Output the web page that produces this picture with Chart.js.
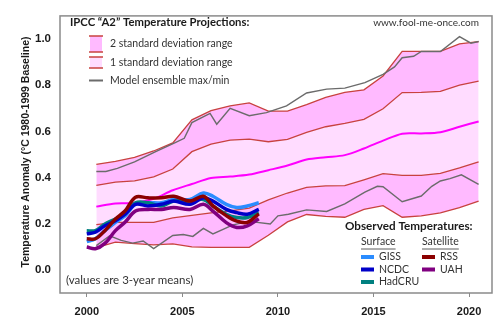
<!DOCTYPE html>
<html>
<head>
<meta charset="utf-8">
<script src="https://cdn.jsdelivr.net/npm/chart.js@4.4.1/dist/chart.umd.min.js"></script>
<style>
  html, body { margin: 0; padding: 0; background: #fff; }
</style>
</head>
<body>
<canvas id="tempChart" width="500" height="328"></canvas>
<script>
// IPCC A2 projection band (annual points)
var projYears = [2000.5, 2001.5, 2002.5, 2003.5, 2004.5, 2005.5, 2006.5, 2007.5, 2008.5, 2009.5, 2010.5,
                 2011.5, 2012.5, 2013.5, 2014.5, 2015.5, 2016.5, 2017.5, 2018.5, 2019.5, 2020.5];
var upper2sd = [0.457, 0.470, 0.487, 0.515, 0.550, 0.650, 0.690, 0.710, 0.723, 0.688, 0.688,
                0.716, 0.747, 0.769, 0.780, 0.840, 0.946, 0.946, 0.946, 0.979, 0.989];
var upper1sd = [0.366, 0.380, 0.386, 0.403, 0.437, 0.512, 0.545, 0.562, 0.566, 0.555, 0.565,
                0.596, 0.620, 0.635, 0.652, 0.698, 0.768, 0.769, 0.773, 0.800, 0.818];
var meanProj = [0.274, 0.288, 0.290, 0.308, 0.345, 0.372, 0.398, 0.404, 0.413, 0.432, 0.452,
                0.478, 0.488, 0.497, 0.526, 0.560, 0.590, 0.591, 0.596, 0.620, 0.643];
var lower1sd = [0.196, 0.206, 0.206, 0.206, 0.225, 0.236, 0.247, 0.256, 0.268, 0.303, 0.333,
                0.357, 0.364, 0.365, 0.390, 0.417, 0.409, 0.409, 0.418, 0.442, 0.468];
var lower2sd = [0.097, 0.120, 0.114, 0.108, 0.113, 0.100, 0.098, 0.098, 0.098, 0.150, 0.208,
                0.240, 0.232, 0.228, 0.262, 0.278, 0.228, 0.234, 0.247, 0.270, 0.298];

// model ensemble max / min
var maxYears = [2000.5, 2001.0, 2001.6, 2002.5, 2003.55, 2004.6, 2005.1, 2005.5, 2006.45, 2006.8, 2007.5, 2008.5,
                2009.4, 2010.45, 2011.5, 2012.55, 2013.5, 2014.55, 2015.5, 2016.1, 2016.5, 2017.1, 2017.5,
                2018.5, 2019.5, 2020.1, 2020.5];
var maxVals = [0.426, 0.426, 0.440, 0.468, 0.510, 0.550, 0.570, 0.638, 0.678, 0.631, 0.700, 0.668,
               0.681, 0.710, 0.766, 0.783, 0.787, 0.811, 0.847, 0.879, 0.919, 0.925, 0.946,
               0.946, 1.010, 0.982, 0.989];
var minYears = [2000.5, 2001.2, 2001.8, 2002.4, 2002.95, 2003.5, 2004.5, 2005.05, 2005.55, 2006.1, 2006.6, 2007.65,
                2008.5, 2009.6, 2010.0, 2010.55, 2011.5, 2012.55, 2013.5, 2014.55, 2015.2, 2015.5, 2016.5,
                2017.5, 2018.05, 2018.5, 2019.0, 2019.6, 2020.5];
var minVals = [0.105, 0.148, 0.128, 0.116, 0.125, 0.092, 0.149, 0.153, 0.145, 0.180, 0.156, 0.195,
               0.210, 0.199, 0.234, 0.241, 0.260, 0.253, 0.286, 0.337, 0.362, 0.360, 0.295,
               0.320, 0.362, 0.385, 0.395, 0.412, 0.370];

// observed temperatures (3-year means)
var obsYears = [2000.0, 2000.45, 2000.95, 2001.5, 2002.0, 2002.55, 2003.2, 2003.9, 2004.55, 2005.4, 2006.1,
                2006.6, 2007.3, 2007.85, 2008.4, 2009.0];
var giss   = [0.123, 0.135, 0.170, 0.206, 0.234, 0.284, 0.291, 0.291, 0.305, 0.305, 0.333, 0.319, 0.284, 0.270, 0.277, 0.291];
var ncdc   = [0.156, 0.163, 0.191, 0.213, 0.241, 0.284, 0.277, 0.284, 0.298, 0.284, 0.312, 0.298, 0.262, 0.248, 0.241, 0.262];
var hadcru = [0.170, 0.170, 0.199, 0.220, 0.241, 0.291, 0.291, 0.277, 0.298, 0.298, 0.305, 0.277, 0.241, 0.227, 0.227, 0.248];
var rss    = [0.135, 0.135, 0.170, 0.220, 0.255, 0.315, 0.312, 0.312, 0.319, 0.298, 0.319, 0.277, 0.235, 0.211, 0.206, 0.243];
var uah    = [0.099, 0.092, 0.115, 0.170, 0.206, 0.255, 0.262, 0.262, 0.270, 0.262, 0.284, 0.255, 0.205, 0.184, 0.191, 0.222];

var xTicks = [2000, 2005, 2010, 2015, 2020];
var yTicks = [0.0, 0.2, 0.4, 0.6, 0.8, 1.0];

var RED = '#c8423f';
var GREY = '#6b6b6b';
var PINK_DARK = '#ffbaff';
var PINK_LIGHT = '#ffdcff';
var obsColors = { GISS: '#2b8cff', NCDC: '#0000c8', HadCRU: '#008080', RSS: '#8b0000', UAH: '#800080' };

function pts(xs, ys) {
    return xs.map(function (x, i) { return { x: x, y: ys[i] }; });
}

function bandLine(data, fill, fillColor) {
    return {
        data: pts(projYears, data),
        borderColor: RED, borderWidth: 1.3,
        backgroundColor: fillColor || 'transparent',
        fill: fill, pointRadius: 0, tension: 0, order: 20
    };
}

function obsLine(name, data, order) {
    return {
        label: name, data: pts(obsYears, data),
        borderColor: obsColors[name], borderWidth: 3.5,
        fill: false, pointRadius: 0, tension: 0.35, order: order
    };
}

var LEGEND_FONT = 'Lato, "Liberation Sans", sans-serif';

var chartTexts = {
    id: 'chartTexts',
    afterDraw: function (chart) {
        var ctx = chart.ctx, a = chart.chartArea;
        ctx.save();
        // frame
        ctx.strokeStyle = '#8a8a8a';
        ctx.lineWidth = 1.5;
        ctx.strokeRect(a.left, a.top, a.right - a.left, a.bottom - a.top);

        // axis title
        ctx.save();
        ctx.translate(26, 152);
        ctx.rotate(-Math.PI / 2);
        ctx.fillStyle = '#1a1a1a';
        ctx.font = 'bold 10.5px "Liberation Sans", Arial, sans-serif';
        ctx.textAlign = 'center';
        ctx.textBaseline = 'middle';
        ctx.fillText('Temperature Anomaly (\u00B0C 1980-1999 Baseline)', 0, 0);
        ctx.restore();

        ctx.textBaseline = 'middle';
        ctx.textAlign = 'left';
        ctx.fillStyle = '#1a1a1a';
        ctx.font = 'bold 11.3px ' + LEGEND_FONT;
        ctx.fillText('IPCC \u201CA2\u201D Temperature Projections:', 70, 22);

        ctx.font = '10px ' + LEGEND_FONT;
        ctx.fillStyle = '#333';
        ctx.textAlign = 'right';
        ctx.fillText('www.fool-me-once.com', 479, 23);

        // projection legend
        ctx.textAlign = 'left';
        ctx.fillStyle = PINK_DARK;
        ctx.fillRect(90, 36, 12, 16);
        ctx.fillStyle = PINK_LIGHT;
        ctx.fillRect(90, 57, 12, 11);
        ctx.strokeStyle = RED;
        ctx.lineWidth = 1.5;
        [36, 52, 57, 68].forEach(function (y) {
            ctx.beginPath(); ctx.moveTo(89, y); ctx.lineTo(103, y); ctx.stroke();
        });
        ctx.strokeStyle = GREY;
        ctx.lineWidth = 2;
        ctx.beginPath(); ctx.moveTo(89, 80.5); ctx.lineTo(103, 80.5); ctx.stroke();

        ctx.fillStyle = '#333';
        ctx.font = '10.5px ' + LEGEND_FONT;
        ctx.fillText('2 standard deviation range', 110, 43.5);
        ctx.fillText('1 standard deviation range', 110, 63);
        ctx.fillText('Model ensemble max/min', 110, 80.5);

        ctx.font = '11.5px ' + LEGEND_FONT;
        ctx.fillText('(values are 3-year means)', 66, 280);

        // observed legend
        ctx.fillStyle = '#1a1a1a';
        ctx.font = 'bold 11.7px ' + LEGEND_FONT;
        ctx.fillText('Observed Temperatures:', 345, 226);

        ctx.fillStyle = '#333';
        ctx.font = '10.5px ' + LEGEND_FONT;
        ctx.fillText('Surface', 361, 242);
        ctx.fillText('Satellite', 422, 242);
        ctx.strokeStyle = '#333';
        ctx.lineWidth = 0.8;
        [[361, 'Surface'], [422, 'Satellite']].forEach(function (h) {
            var w = ctx.measureText(h[1]).width;
            ctx.beginPath(); ctx.moveTo(h[0], 249); ctx.lineTo(h[0] + w, 249); ctx.stroke();
        });

        var items = [['GISS', 361, 257], ['NCDC', 361, 269.5], ['HadCRU', 361, 282],
                     ['RSS', 422, 257], ['UAH', 422, 269.5]];
        items.forEach(function (it) {
            ctx.fillStyle = obsColors[it[0]];
            ctx.fillRect(it[1], it[2] - 2, 13, 4);
            ctx.fillStyle = '#333';
            ctx.fillText(it[0], it[1] + 18, it[2]);
        });
        ctx.restore();
    }
};

var ctx = document.getElementById('tempChart');
var tempChart = new Chart(ctx, {
    type: 'line',
    data: {
        datasets: [
            bandLine(upper2sd, '+1', PINK_DARK),
            bandLine(upper1sd, '+1', PINK_LIGHT),
            bandLine(lower1sd, '+1', PINK_DARK),
            bandLine(lower2sd, false),
            { data: pts(projYears, meanProj), borderColor: '#ff00ff', borderWidth: 2, fill: false, pointRadius: 0, tension: 0.3, order: 19 },
            { data: pts(maxYears, maxVals), borderColor: GREY, borderWidth: 1.4, fill: false, pointRadius: 0, tension: 0, order: 18 },
            { data: pts(minYears, minVals), borderColor: GREY, borderWidth: 1.4, fill: false, pointRadius: 0, tension: 0, order: 18 },
            obsLine('GISS', giss, 5),
            obsLine('HadCRU', hadcru, 4),
            obsLine('NCDC', ncdc, 3),
            obsLine('UAH', uah, 2),
            obsLine('RSS', rss, 1)
        ]
    },
    options: {
        responsive: false,
        animation: false,
        devicePixelRatio: 1,
        layout: { padding: { top: 13, right: 8, left: 0, bottom: 0 } },
        plugins: {
            legend: { display: false },
            tooltip: { enabled: false },
            filler: { drawTime: 'beforeDatasetsDraw' }
        },
        scales: {
            x: {
                type: 'linear', min: 1998.6, max: 2021.2,
                afterBuildTicks: function (scale) { scale.ticks = xTicks.map(function (v) { return { value: v }; }); },
                afterFit: function (scale) { scale.height = 35; },
                grid: { display: true, drawOnChartArea: false, drawTicks: true, tickLength: 4, color: '#8a8a8a' },
                border: { display: false },
                ticks: {
                    padding: 8, color: '#1a1a1a', maxRotation: 0,
                    font: { family: '"Liberation Sans", Arial, sans-serif', size: 11, weight: 'bold' },
                    callback: function (v) { return String(v); }
                }
            },
            y: {
                min: -0.1, max: 1.1,
                afterBuildTicks: function (scale) { scale.ticks = yTicks.map(function (v) { return { value: v }; }); },
                afterFit: function (scale) { scale.width = 60; },
                grid: { display: false, drawTicks: false, tickLength: 0 },
                border: { display: false },
                ticks: {
                    padding: 9, color: '#1a1a1a',
                    font: { family: '"Liberation Sans", Arial, sans-serif', size: 11.5, weight: 'bold' },
                    callback: function (v) { return v.toFixed(1); }
                }
            }
        }
    },
    plugins: [chartTexts]
});
</script>
</body>
</html>
